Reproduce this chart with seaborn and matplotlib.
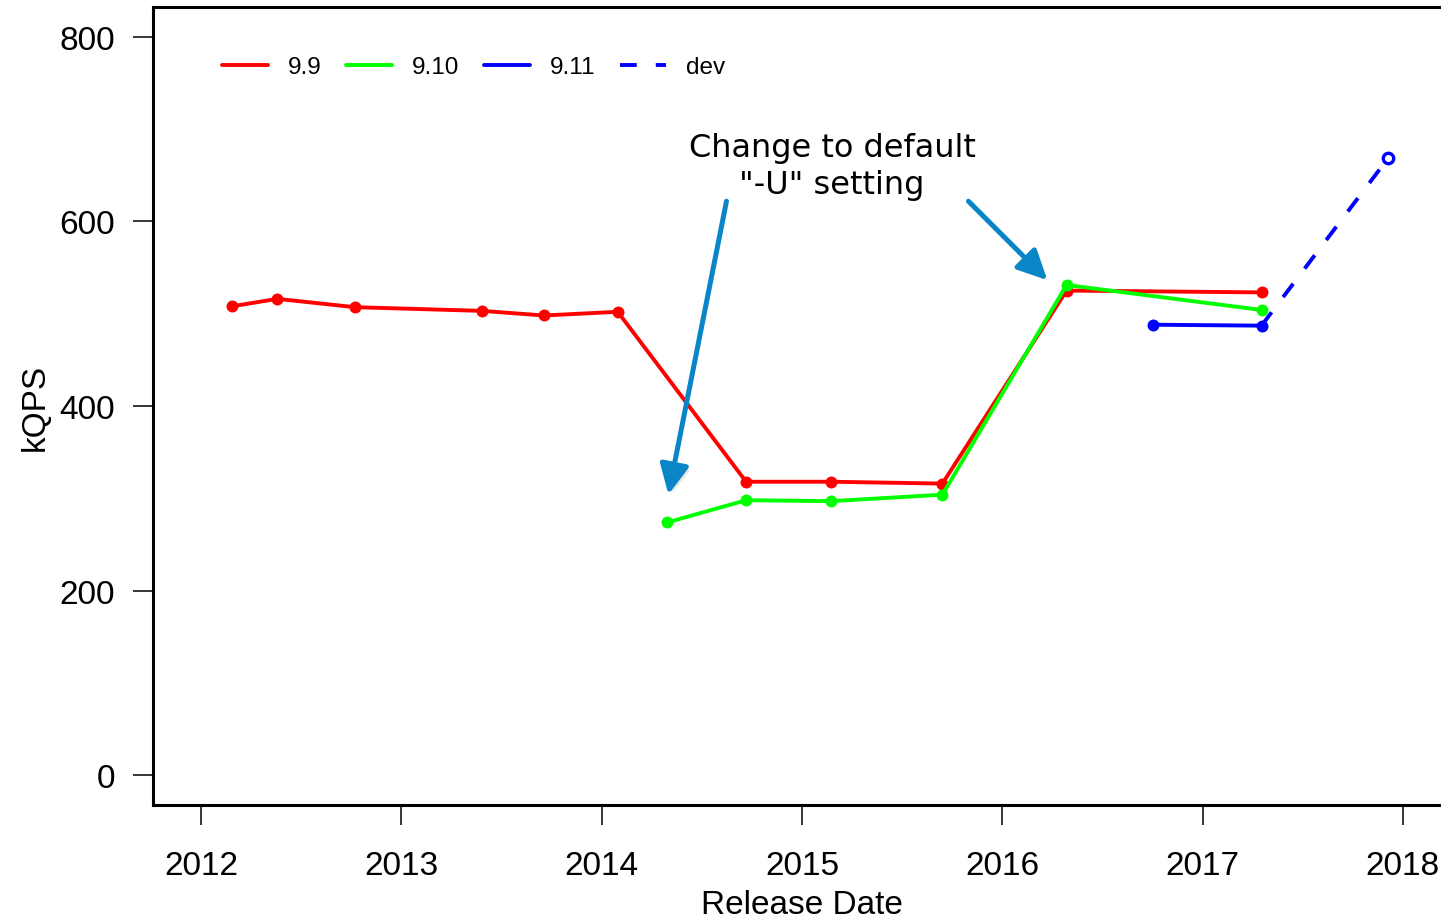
import matplotlib
matplotlib.use("Agg")
import matplotlib.pyplot as plt
import matplotlib.patheffects as pe
from matplotlib.lines import Line2D
import numpy as np
import pandas as pd
import seaborn as sns

# Release dates (decimal years) and throughput in kQPS for each branch
rel_99_date = [2012.156, 2012.381, 2012.767, 2013.401, 2013.712, 2014.080,
               2014.721, 2015.147, 2015.701, 2016.321, 2017.294]
rel_99_kqps = [508, 516, 507, 503, 498, 502, 318, 318, 316, 525, 523]

rel_910_date = [2014.328, 2014.721, 2015.147, 2015.701, 2016.321, 2017.294]
rel_910_kqps = [274, 298, 297, 304, 531, 504]

rel_911_date = [2016.754, 2017.294]
rel_911_kqps = [488, 487]

dev_date = [2017.294, 2017.925]
dev_kqps = [487, 668]

series_names = ["9.9", "9.10", "9.11", "dev"]
series_colors = ["#FF0000", "#00FF00", "#0000FF", "#0000FF"]

year_ticks = [2012, 2013, 2014, 2015, 2016, 2017, 2018]
kqps_ticks = [0, 200, 400, 600, 800]

sns.set_style("ticks")
plt.rcParams["font.family"] = ["Liberation Sans", "DejaVu Sans"]
plt.rcParams["text.color"] = "black"
plt.rcParams["axes.labelcolor"] = "black"

W, H = 1441, 920
fig = plt.figure(figsize=(W / 100, H / 100), dpi=100)
# plot region: the right edge of the box runs just past the figure border
ax = fig.add_axes([153 / W, 1 - 806 / H, (1451 - 153) / W, (806 - 8) / H])

lw = 2.8
frames = [
    pd.DataFrame({"date": rel_99_date, "kqps": rel_99_kqps}),
    pd.DataFrame({"date": rel_910_date, "kqps": rel_910_kqps}),
    pd.DataFrame({"date": rel_911_date, "kqps": rel_911_kqps}),
]
for df, col in zip(frames, series_colors[:3]):
    sns.lineplot(data=df, x="date", y="kqps", ax=ax, color=col, lw=lw,
                 sort=False, estimator=None, legend=False)
    ax.lines[-1].set_marker("o")
    ax.lines[-1].set_markersize(8.6)
    ax.lines[-1].set_markeredgewidth(0)
    ax.lines[-1].set_markerfacecolor(col)

dev_df = pd.DataFrame({"date": dev_date, "kqps": dev_kqps})
sns.lineplot(data=dev_df, x="date", y="kqps", ax=ax, color=series_colors[3],
             lw=lw, sort=False, estimator=None, legend=False)
ax.lines[-1].set_dashes((4.3, 4.9))
ax.plot(dev_date[-1:], dev_kqps[-1:], marker="o", ms=7.5, mfc="white",
        mec=series_colors[3], mew=2.4, ls="none")

ax.set_xlim(2011.76, 2018.24)
ax.set_ylim(-32, 832)
ax.set_xticks(year_ticks)
ax.set_yticks(kqps_ticks)
ax.set_xticklabels([str(y) for y in year_ticks])
ax.set_yticklabels([str(v) for v in kqps_ticks])

for side in ["left", "bottom", "top", "right"]:
    ax.spines[side].set_visible(True)
    ax.spines[side].set_linewidth(2.2)
    ax.spines[side].set_color("black")

ax.tick_params(axis="x", length=14.4, width=1.1, pad=18, labelsize=24,
               colors="black")
ax.tick_params(axis="y", length=14.4, width=1.1, pad=13, labelsize=24,
               colors="black")
ax.set_xlabel("Release Date", fontsize=24, labelpad=6)
ax.set_ylabel("kQPS", fontsize=24, labelpad=6)

# legend across the top
handles = [
    Line2D([], [], color=series_colors[0], lw=lw),
    Line2D([], [], color=series_colors[1], lw=lw),
    Line2D([], [], color=series_colors[2], lw=lw),
    Line2D([], [], color=series_colors[3], lw=lw, dashes=(4.3, 4.9)),
]
ax.legend(handles, series_names, ncol=4, frameon=False, loc="center left",
          bbox_to_anchor=((222 - 153) / 1298, 1 - (68 - 8) / 798),
          borderaxespad=0, borderpad=0, fontsize=17.5, handlelength=1.9,
          handletextpad=0.82, columnspacing=1.0)

# annotation with two arrows
ax.text(2015.15, 660, 'Change to default\n"-U" setting', ha="center",
        va="center", fontsize=23, family=["DejaVu Sans"], linespacing=1.22,
        color="black")

arrow_col = "#0A86C8"
shadow = [pe.SimplePatchShadow(offset=(2.5, -2.5), shadow_rgbFace="#999999",
                               alpha=0.25), pe.Normal()]
for start, tip in [((2014.623, 621.7), (2014.333, 304.2)),
                   ((2015.831, 621.7), (2016.225, 536.2))]:
    ann = ax.annotate("", xy=tip, xytext=start,
                      arrowprops=dict(arrowstyle="-|>,head_length=0.45,head_width=0.22",
                                      color=arrow_col, lw=3.6,
                                      mutation_scale=40, shrinkA=0, shrinkB=0))
    ann.arrow_patch.set_path_effects(shadow)

fig.savefig("out.png", dpi=100)
